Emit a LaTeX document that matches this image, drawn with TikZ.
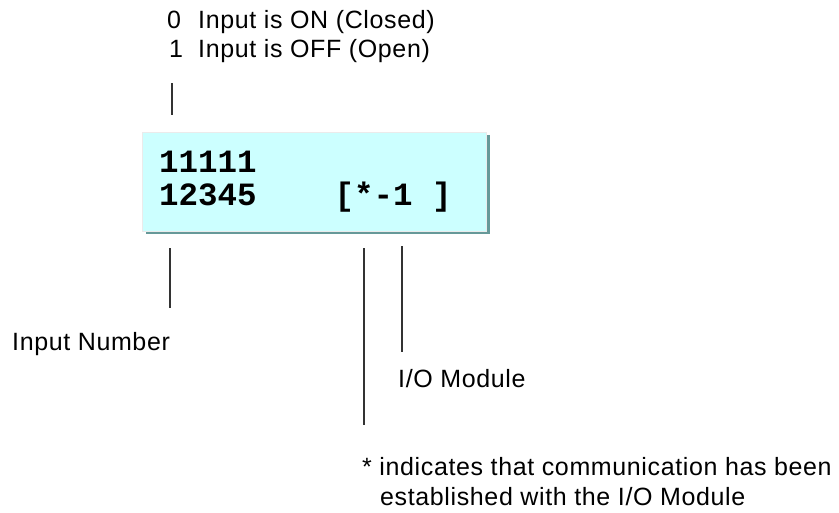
\documentclass[tikz,border=0pt]{standalone}
\usepackage{fontspec}
\setmainfont{Liberation Sans}[LetterSpace=2.5]
\setmonofont{Liberation Mono}
\usetikzlibrary{shadows}
\definecolor{lcdcyan}{RGB}{204,255,255}
\definecolor{lcdshade}{RGB}{102,153,153}
\definecolor{leadgray}{RGB}{51,51,51}
\tikzset{labeltext/.style={inner sep=0pt,anchor=base west,font=\fontsize{25}{29}\selectfont},
         lcdtext/.style={inner sep=0pt,anchor=base west,font=\fontsize{32.5}{33}\selectfont\ttfamily\bfseries},
         lcd/.style={draw=black!8,fill=lcdcyan,inner sep=0pt,anchor=north west,
                     drop shadow={shadow xshift=4pt,shadow yshift=-3pt,fill=lcdshade,opacity=1}},
         leader/.style={line width=1.6pt,leadgray}}

\begin{document}
\begin{tikzpicture}[x=1pt,y=-1pt]
                  \useasboundingbox (0,0) rectangle (839,512);
                  % display
                  \node[lcd,minimum width=344pt,minimum height=99pt] (lcd) at (142,132) {};
                  \node[lcdtext] (rowone) at (159,172) {11111};
                  \node[lcdtext] (rowtwo) at (159,205) {12345\ \ \ \ [*-1\ ]};
                  % legend
                  \node[labeltext] (zero) at (167,28) {0};
                  \node[labeltext] (one) at (169,57) {1};
                  \node[labeltext] (ontext) at (198,28) {Input is ON (Closed)};
                  \node[labeltext] (offtext) at (198,57) {Input is OFF (Open)};
                  \node[labeltext] (numbertext) at (12,350) {Input Number};
                  \node[labeltext] (moduletext) at (398,387) {I/O Module};
                  \node[labeltext] (commtext) at (362,475) {* indicates that communication has been};
                  \node[labeltext] (commtexttwo) at (380,505) {established with the I/O Module};
                  % leader lines
                  \coordinate (legendend) at (172,83);  \coordinate (lcdin) at (172,115);
                  \coordinate (inputout) at (170,248);  \coordinate (numberend) at (170,308);
                  \coordinate (starout) at (364,248);   \coordinate (commend) at (364,425);
                  \coordinate (moduleout) at (402,246); \coordinate (moduleend) at (402,352);
                  \draw[leader] (legendend) -- (lcdin);
                  \draw[leader] (inputout) -- (numberend);
                  \draw[leader] (starout) -- (commend);
                  \draw[leader] (moduleout) -- (moduleend);
              \end{tikzpicture}
\end{document}
